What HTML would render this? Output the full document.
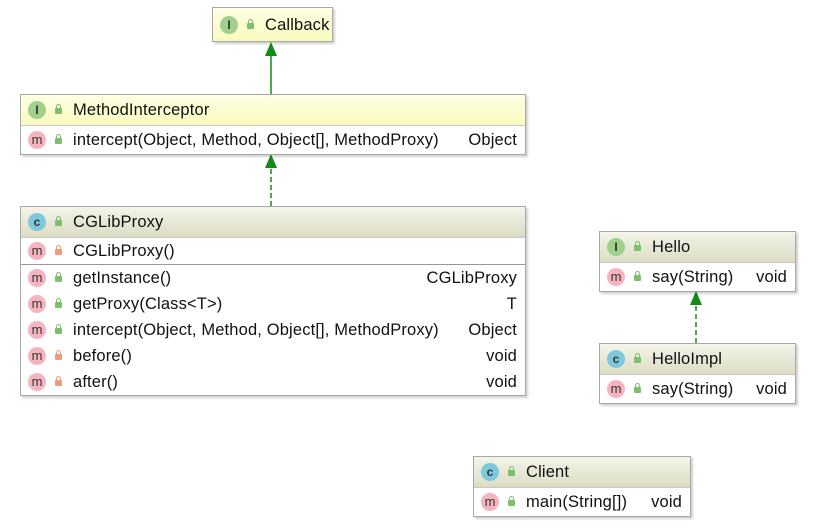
<!DOCTYPE html>
<html><head><meta charset="utf-8"><style>
body{margin:0;width:833px;height:530px;background:#fff;position:relative;overflow:hidden;font-family:"Liberation Sans","Noto Sans CJK SC",sans-serif;font-size:16.5px;letter-spacing:0.15px;color:#111}
.box{position:absolute;background:#fff;border:1px solid #a8a8a8;box-shadow:2px 2px 2px rgba(0,0,0,0.18)}
.hd{position:relative;height:30px;border-bottom:1px solid #c8c8c8;background:linear-gradient(#f4f4ea,#dcdcc4)}
.hy{background:linear-gradient(#ffffe6,#fafabe)}
.row{position:relative;height:26px}
.ic{position:absolute;left:7px;top:50%;margin-top:-9px;width:18px;height:18px;border-radius:50%;font-size:12px;line-height:18px;text-align:center;color:#333;font-weight:bold;letter-spacing:0}
.I{background:#9fd08c}.C{background:#7ec8dc}.M{background:#f5b4c0;font-weight:normal;font-size:13px}
.lk{position:absolute;left:34px;top:50%;margin-top:-2px;width:7px;height:6px;border-radius:1px;background:#7cbf6c}
.lk:before{content:"";position:absolute;left:1px;top:-4px;width:3px;height:4px;border:1.5px solid #7cbf6c;border-bottom:none;border-radius:3px 3px 0 0}
.lk.r,.lk.r:before{background:#f29a7a;border-color:#f29a7a}
.lk.r:before{background:none;left:1px}
.t{position:absolute;left:52px;top:50%;transform:translateY(-48%);white-space:nowrap}
.rt{position:absolute;right:8px;top:50%;transform:translateY(-48%)}
</style></head><body>
<svg width="833" height="530" style="position:absolute;left:0;top:0">
<line x1="271" y1="94" x2="271" y2="54" stroke="#138a13" stroke-width="1.5"/>
<polygon points="271,42 265,56 277,56" fill="#138a13"/>
<line x1="271" y1="206" x2="271" y2="166" stroke="#138a13" stroke-width="1.5" stroke-dasharray="5,3"/>
<polygon points="271,154 265,168 277,168" fill="#138a13"/>
<line x1="696" y1="343" x2="696" y2="303" stroke="#138a13" stroke-width="1.5" stroke-dasharray="5,3"/>
<polygon points="696,291 690,305 702,305" fill="#138a13"/>
</svg>

<div class="box" style="left:212px;top:7px;width:119px;height:33px">
<div class="hd hy" style="height:33px;border:none"><span class="ic I">I</span><span class="lk"></span><span class="t">Callback</span></div></div>

<div class="box" style="left:20px;top:94px;width:504px">
<div class="hd hy"><span class="ic I">I</span><span class="lk"></span><span class="t">MethodInterceptor</span></div>
<div class="row" style="height:28px"><span class="ic M">m</span><span class="lk"></span><span class="t">intercept(Object, Method, Object[], MethodProxy)</span><span class="rt">Object</span></div></div>

<div class="box" style="left:20px;top:206px;width:504px">
<div class="hd"><span class="ic C">c</span><span class="lk"></span><span class="t">CGLibProxy</span></div>
<div class="row" style="border-bottom:1px solid #999"><span class="ic M">m</span><span class="lk r"></span><span class="t">CGLibProxy()</span></div>
<div class="row"><span class="ic M">m</span><span class="lk"></span><span class="t">getInstance()</span><span class="rt">CGLibProxy</span></div>
<div class="row"><span class="ic M">m</span><span class="lk"></span><span class="t">getProxy(Class&lt;T&gt;)</span><span class="rt">T</span></div>
<div class="row"><span class="ic M">m</span><span class="lk"></span><span class="t">intercept(Object, Method, Object[], MethodProxy)</span><span class="rt">Object</span></div>
<div class="row"><span class="ic M">m</span><span class="lk r"></span><span class="t">before()</span><span class="rt">void</span></div>
<div class="row"><span class="ic M">m</span><span class="lk r"></span><span class="t">after()</span><span class="rt">void</span></div></div>

<div class="box" style="left:599px;top:231px;width:195px">
<div class="hd"><span class="ic I">I</span><span class="lk"></span><span class="t">Hello</span></div>
<div class="row" style="height:28px"><span class="ic M">m</span><span class="lk"></span><span class="t">say(String)</span><span class="rt">void</span></div></div>

<div class="box" style="left:599px;top:343px;width:195px">
<div class="hd"><span class="ic C">c</span><span class="lk"></span><span class="t">HelloImpl</span></div>
<div class="row" style="height:28px"><span class="ic M">m</span><span class="lk"></span><span class="t">say(String)</span><span class="rt">void</span></div></div>

<div class="box" style="left:473px;top:456px;width:216px">
<div class="hd"><span class="ic C">c</span><span class="lk"></span><span class="t">Client</span></div>
<div class="row" style="height:28px"><span class="ic M">m</span><span class="lk"></span><span class="t">main(String[])</span><span class="rt">void</span></div></div>
</body></html>
